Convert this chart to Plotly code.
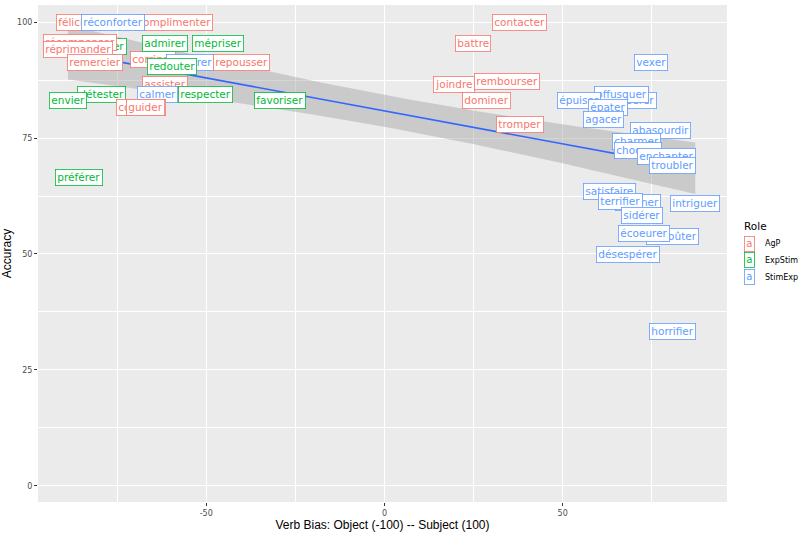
import numpy as np
import plotly.graph_objects as go

# ---- data (draw order: later items lie on top) ----
verbs = ["féliciter", "complimenter", "réconforter", "aimer", "récompenser", "réprimander",
         "remercier", "corriger", "rassurer", "repousser", "redouter", "admirer", "mépriser",
         "assister", "calmer", "respecter", "détester", "envier", "consoler", "guider",
         "favoriser", "préférer", "contacter", "battre", "joindre", "rembourser", "dominer",
         "tromper", "exaspérer", "offusquer", "épuiser", "épater", "agacer", "vexer",
         "abasourdir", "charmer", "choquer", "enchanter", "troubler", "satisfaire", "étonner",
         "terrifier", "intriguer", "sidérer", "dégoûter", "écoeurer", "désespérer", "horrifier"]
roles = ["AgP", "AgP", "StimExp", "ExpStim", "AgP", "AgP",
         "AgP", "AgP", "StimExp", "AgP", "ExpStim", "ExpStim", "ExpStim",
         "AgP", "StimExp", "ExpStim", "ExpStim", "ExpStim", "AgP", "AgP",
         "ExpStim", "ExpStim", "AgP", "AgP", "AgP", "AgP", "AgP",
         "AgP", "StimExp", "StimExp", "StimExp", "StimExp", "StimExp", "StimExp",
         "StimExp", "StimExp", "StimExp", "StimExp", "StimExp", "StimExp", "StimExp",
         "StimExp", "StimExp", "StimExp", "StimExp", "StimExp", "StimExp", "StimExp"]
bias = [-85.8, -59.0, -76.3, -77.4, -85.5, -86.0,
        -81.3, -65.0, -54.5, -40.2, -59.5, -61.5, -46.6,
        -61.7, -63.7, -50.3, -79.3, -88.8, -68.4, -67.0,
        -29.3, -85.8, 38.0, 24.9, 19.6, 34.4, 28.5,
        38.0, 68.4, 66.5, 54.5, 62.6, 61.5, 74.9,
        77.4, 70.7, 71.2, 79.0, 80.7, 63.1, 71.2,
        66.2, 87.2, 72.3, 80.7, 72.9, 68.2, 80.7]
accuracy = [100.0, 100.0, 100.0, 94.8, 95.7, 94.0,
            91.4, 92.0, 91.4, 91.4, 90.5, 95.5, 95.5,
            86.6, 84.4, 84.4, 84.4, 83.2, 81.6, 81.6,
            83.2, 66.5, 100.0, 95.5, 86.6, 87.3, 83.2,
            78.0, 83.2, 84.4, 83.2, 81.6, 79.0, 91.4,
            76.7, 74.3, 72.4, 71.0, 69.1, 63.5, 61.0,
            61.3, 60.9, 58.3, 53.8, 54.4, 49.9, 33.3]

role_names = ["AgP", "ExpStim", "StimExp"]
role_colors = ["#F8766D", "#00BA38", "#619CFF"]
x_ticks = [-50, 0, 50]
y_ticks = [0, 25, 50, 75, 100]

color_of = dict(zip(role_names, role_colors))

# ---- linear fit with 95% CI (geom_smooth(method="lm")) ----
xa = np.array(bias)
ya = np.array(accuracy)
n = len(xa)
slope, intercept = np.polyfit(xa, ya, 1)
resid = ya - (intercept + slope * xa)
s = np.sqrt(np.sum(resid ** 2) / (n - 2))
sxx = np.sum((xa - xa.mean()) ** 2)
tq = 2.013
xs = np.linspace(xa.min(), xa.max(), 80)
fit = intercept + slope * xs
se = s * np.sqrt(1 / n + (xs - xa.mean()) ** 2 / sxx)
lo = fit - tq * se
hi = fit + tq * se

fig = go.Figure()
fig.add_trace(go.Scatter(x=np.concatenate([xs, xs[::-1]]), y=np.concatenate([hi, lo[::-1]]),
                         fill="toself", fillcolor="rgba(153,153,153,0.4)",
                         line=dict(width=0), hoverinfo="skip", showlegend=False))
fig.add_trace(go.Scatter(x=xs, y=fit, mode="lines", line=dict(color="#3366FF", width=1.6),
                         showlegend=False))

annotations = []
for v, r, bx, ay in zip(verbs, roles, bias, accuracy):
    annotations.append(dict(x=bx, y=ay, xref="x", yref="y", text=v, showarrow=False,
                            font=dict(family="DejaVu Sans", size=10.5, color=color_of[r]),
                            bgcolor="white", bordercolor=color_of[r], borderwidth=0.8,
                            borderpad=1.5))

# manual legend (ggplot style)
annotations.append(dict(x=742, y=535 - 227, xref="paper", yref="paper", text="Role",
                        showarrow=False, xanchor="left", yanchor="middle",
                        font=dict(family="DejaVu Sans", size=10.5, color="black")))
for i, (rn, rc) in enumerate(zip(role_names, role_colors)):
    yy = 245 + i * 17
    annotations.append(dict(x=750, y=535 - yy, xref="paper", yref="paper", text="a",
                            showarrow=False, xanchor="center", yanchor="middle",
                            font=dict(family="DejaVu Sans", size=10, color=rc),
                            bgcolor="white", bordercolor=rc, borderwidth=0.8, borderpad=1.5))
    annotations.append(dict(x=763, y=535 - yy, xref="paper", yref="paper", text=rn,
                            showarrow=False, xanchor="left", yanchor="middle",
                            font=dict(family="DejaVu Sans", size=8, color="black")))

# convert manual legend pixel positions to paper fractions
L, R, T, B = 35, 73, 5, 30
pw, ph = 800 - L - R, 535 - T - B
for a in annotations:
    if a["xref"] == "paper":
        a["x"] = (a["x"] - L) / pw
        a["y"] = (a["y"] - B) / ph

fig.update_layout(
    width=800, height=535,
    margin=dict(l=L, r=R, t=T, b=B),
    plot_bgcolor="#EBEBEB", paper_bgcolor="white",
    showlegend=False,
    annotations=annotations,
    font=dict(family="DejaVu Sans"),
)
fig.update_xaxes(range=[-97.2, 96.1], tickvals=x_ticks, ticktext=[str(t) for t in x_ticks],
                 showgrid=True, gridcolor="white", gridwidth=1.1, zeroline=False,
                 ticks="outside", ticklen=3, tickcolor="#333333", tickwidth=1,
                 tickfont=dict(size=8, color="#4D4D4D"),
                 minor=dict(tickvals=[-75, -25, 25, 75], showgrid=True, gridcolor="white",
                            gridwidth=0.5, ticks=""),
                 title=dict(text="Verb Bias: Object (-100) -- Subject (100)",
                            font=dict(family="Liberation Sans", size=12, color="black"),
                            standoff=4))
fig.update_yaxes(range=[-3.5, 103.7], tickvals=y_ticks, ticktext=[str(t) for t in y_ticks],
                 showgrid=True, gridcolor="white", gridwidth=1.1, zeroline=False,
                 ticks="outside", ticklen=3, tickcolor="#333333", tickwidth=1,
                 tickfont=dict(size=8, color="#4D4D4D"),
                 minor=dict(tickvals=[12.5, 37.5, 62.5, 87.5], showgrid=True, gridcolor="white",
                            gridwidth=0.5, ticks=""),
                 title=dict(text="Accuracy",
                            font=dict(family="Liberation Sans", size=12, color="black"),
                            standoff=4))

fig.write_html("out.html")
